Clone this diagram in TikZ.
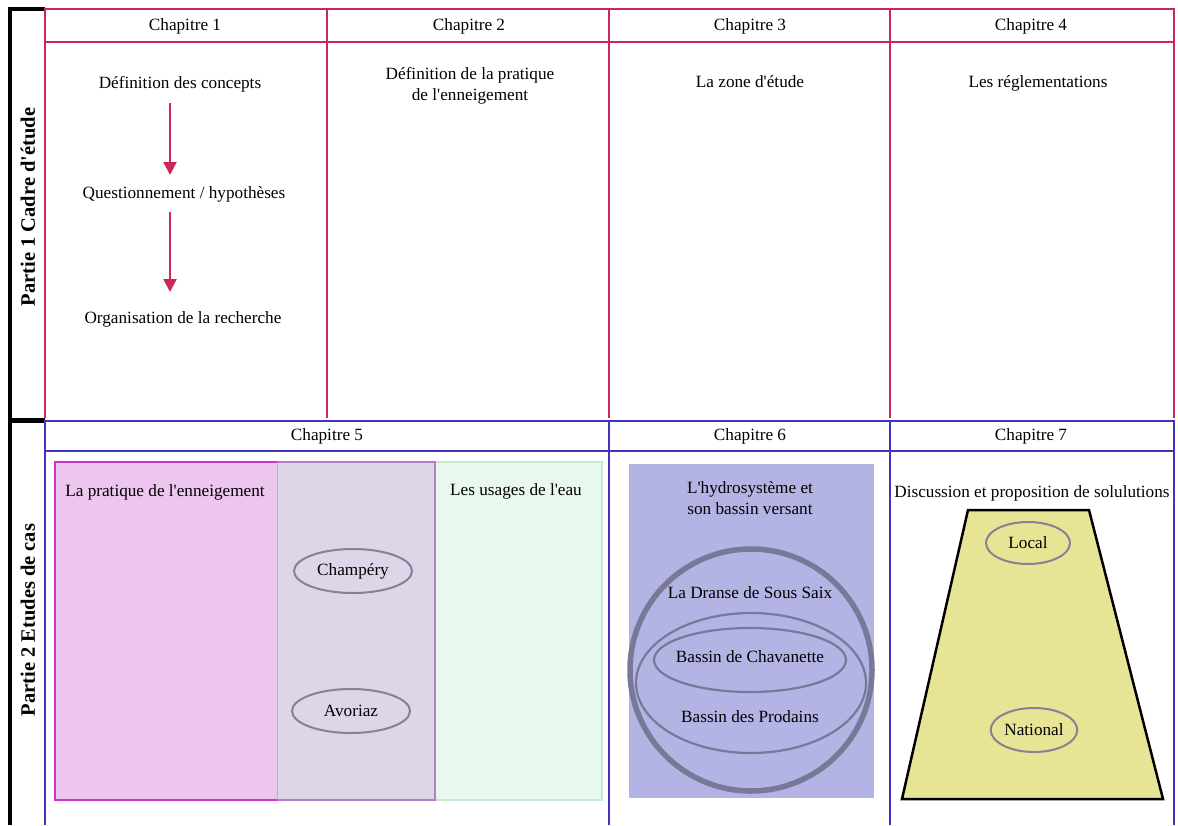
\documentclass[tikz,border=0pt]{standalone}
\usepackage{fontspec}
\setmainfont{Liberation Serif}[Ligatures=TeXOff]
\usetikzlibrary{arrows.meta,shapes.geometric}

\definecolor{redline}{RGB}{205,40,85}
\definecolor{blueline}{RGB}{70,50,190}
\definecolor{pinkfill}{RGB}{236,198,238}
\definecolor{magline}{RGB}{204,51,204}
\definecolor{overlapfill}{RGB}{222,214,232}
\definecolor{purpline}{RGB}{180,125,200}
\definecolor{greenfill}{RGB}{233,248,238}
\definecolor{greenline}{RGB}{200,232,208}
\definecolor{hydrofill}{RGB}{180,180,228}
\definecolor{circline}{RGB}{120,120,152}
\definecolor{ellline}{RGB}{135,128,150}
\definecolor{trapfill}{RGB}{232,228,150}

\begin{document}
\begin{tikzpicture}[x=1pt, y=-1pt,
    txt/.style={font=\fontsize{17.2}{20.5}\selectfont, inner sep=1pt},
    part/.style={font=\fontsize{20.5}{24}\selectfont\bfseries, rotate=90},
    place/.style={ellipse, draw=ellline, line width=2pt, minimum width=118pt, minimum height=44pt, txt},
    flow/.style={redline, line width=2.2pt, -{Triangle[width=13pt,length=13pt]}}]
    \useasboundingbox (0,0) rectangle (1178,825);

    % Side column
    \draw[line width=3.5pt] (45,9) -- (10,9) -- (10,825);
    \draw[line width=5pt] (10,420) -- (45,420);
    \node[part] (p1) at (28,207) {Partie 1 Cadre d'étude};
    \node[part] (p2) at (28,620) {Partie 2 Etudes de cas};

    % Partie 1 frame
    \draw[redline, line width=2.5pt] (45,418) -- (45,9) -- (1174,9) -- (1174,418);
    \draw[redline, line width=2.5pt] (45,42) -- (1174,42);
    \foreach \x in {327,609,890}
        \draw[redline, line width=2.5pt] (\x,9) -- (\x,418);

    % Chapter titles
    \node[txt] (c1) at (185,26) {Chapitre 1};
    \node[txt] (c2) at (469,26) {Chapitre 2};
    \node[txt] (c3) at (750,26) {Chapitre 3};
    \node[txt] (c4) at (1031,26) {Chapitre 4};

    % Chapitre 1
    \node[txt] (def) at (180,84) {Définition des concepts};
    \node[txt] (quest) at (184,194) {Questionnement / hypothèses};
    \node[txt] (orga) at (183,319) {Organisation de la recherche};
    \coordinate (a1) at (170,103);
    \coordinate (b1) at (170,175);
    \coordinate (a2) at (170,212);
    \coordinate (b2) at (170,292);
    \draw[flow] (a1) -- (b1);
    \draw[flow] (a2) -- (b2);

    \node[txt, align=center] (prat) at (470,86) {Définition de la pratique\\de l'enneigement};
    \node[txt] (zone) at (750,82) {La zone d'étude};
    \node[txt] (regl) at (1038,83) {Les réglementations};

    % Partie 2 frame
    \draw[blueline, line width=2.5pt] (45,825) -- (45,421) -- (1174,421) -- (1174,825);
    \draw[blueline, line width=2.5pt] (45,451) -- (1174,451);
    \foreach \x in {609,890}
        \draw[blueline, line width=2.5pt] (\x,421) -- (\x,825);

    \node[txt] (c5) at (327,436) {Chapitre 5};
    \node[txt] (c6) at (750,436) {Chapitre 6};
    \node[txt] (c7) at (1031,436) {Chapitre 7};

    % Chapitre 5
    \fill[pinkfill] (55,462) rectangle (277,800);
    \fill[overlapfill] (277,462) rectangle (435,800);
    \fill[greenfill] (435,462) rectangle (602,800);
    \draw[greenline, line width=1.5pt] (435,462) -- (602,462) -- (602,800) -- (435,800);
    \draw[ellline!60, line width=1pt] (277,462) -- (277,800);
    \draw[magline, line width=2.2pt] (277,462) -- (55,462) -- (55,800) -- (277,800);
    \draw[purpline, line width=2.2pt] (277,462) -- (435,462) -- (435,800) -- (277,800);
    \node[txt] (neige) at (165,492) {La pratique de l'enneigement};
    \node[txt] (usages) at (516,491) {Les usages de l'eau};
    \node[place] (champ) at (353,571) {Champéry};
    \node[place] (avor) at (351,711) {Avoriaz};

    % Chapitre 6
    \fill[hydrofill] (629,464) rectangle (874,798);
    \node[txt, align=center] (hydro) at (750,498) {L'hydrosystème et\\son bassin versant};
    \draw[circline, line width=5.5pt] (751,670) circle (121pt);
    \draw[circline, line width=2.2pt] (751,683) ellipse (115pt and 70pt);
    \draw[circline, line width=2.2pt] (750,660) ellipse (96pt and 32pt);
    \node[txt] (dranse) at (750,593) {La Dranse de Sous Saix};
    \node[txt] (chav) at (750,657) {Bassin de Chavanette};
    \node[txt] (prod) at (750,717) {Bassin des Prodains};

    % Chapitre 7
    \node[txt] (disc) at (1032,493) {Discussion et proposition de solulutions};
    \draw[trapfill, draw=black, line width=2.5pt, fill=trapfill] (968,510) -- (1089,510) -- (1163,799) -- (902,799) -- cycle;
    \node[place, minimum width=84pt, minimum height=42pt] (local) at (1028,543) {Local};
    \node[place, minimum width=84pt, minimum height=44pt] (nat) at (1034,730) {National};
\end{tikzpicture}
\end{document}
